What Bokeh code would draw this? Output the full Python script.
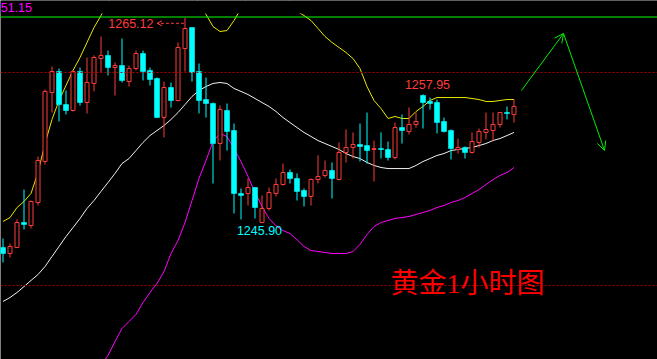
from bokeh.plotting import figure
from bokeh.models import Range1d, Span, Label, Arrow, OpenHead, ColumnDataSource, BoxAnnotation
from bokeh.embed import file_html
from bokeh.resources import INLINE

# ---------------- data ----------------
opens = [1243.57, 1243.00, 1243.57, 1245.91, 1245.63, 1247.79, 1251.64, 1258.12, 1260.09, 1256.99,
         1256.43, 1260.09, 1257.18, 1258.97, 1261.31, 1261.60, 1260.47, 1260.66, 1259.15, 1260.37,
         1261.78, 1260.19, 1259.44, 1255.77, 1258.59, 1257.37, 1262.25, 1264.22, 1260.09, 1257.46,
         1257.09, 1253.33, 1256.43, 1254.55, 1248.64, 1248.64, 1249.20, 1245.91, 1247.23, 1248.64,
         1249.48, 1250.61, 1250.05, 1248.92, 1248.36, 1249.95, 1250.33, 1250.80, 1249.95, 1252.49,
         1252.96, 1253.24, 1253.14, 1252.77, 1252.86, 1252.77, 1252.02, 1254.83, 1254.46, 1255.12,
         1257.84, 1257.28, 1257.18, 1255.40, 1254.55, 1252.77, 1252.96, 1252.49, 1253.43, 1254.37,
         1254.55, 1255.12, 1256.24, 1256.06]
highs = [1244.41, 1243.94, 1246.20, 1249.01, 1247.98, 1252.11, 1258.40, 1260.56, 1260.37, 1258.31,
         1260.19, 1260.47, 1261.41, 1261.60, 1263.38, 1262.06, 1260.94, 1263.19, 1260.66, 1262.06,
         1262.06, 1260.47, 1259.53, 1259.15, 1259.06, 1262.82, 1265.12, 1264.22, 1260.84, 1259.53,
         1257.18, 1256.90, 1257.09, 1255.21, 1249.11, 1250.05, 1249.20, 1248.45, 1249.20, 1250.05,
         1251.45, 1250.89, 1250.52, 1249.11, 1250.05, 1252.21, 1251.74, 1251.55, 1253.43, 1254.65,
         1254.37, 1255.21, 1256.24, 1253.61, 1254.37, 1253.52, 1255.30, 1256.06, 1256.71, 1256.24,
         1257.95, 1257.65, 1257.46, 1255.77, 1254.65, 1253.80, 1253.05, 1254.37, 1254.74, 1256.24,
         1256.24, 1256.24, 1256.81, 1257.46]
lows = [1242.16, 1242.63, 1243.57, 1245.26, 1245.35, 1247.51, 1251.36, 1256.24, 1255.40, 1256.06,
        1256.34, 1256.90, 1256.15, 1258.22, 1260.00, 1259.72, 1257.84, 1259.06, 1258.68, 1260.19,
        1259.25, 1258.78, 1255.77, 1253.90, 1256.71, 1257.28, 1260.09, 1259.15, 1256.15, 1255.77,
        1249.58, 1251.74, 1252.67, 1246.76, 1246.20, 1247.51, 1246.29, 1245.90, 1247.04, 1248.36,
        1249.39, 1249.58, 1247.98, 1247.42, 1247.51, 1249.58, 1250.14, 1248.17, 1249.86, 1251.55,
        1251.92, 1251.64, 1251.45, 1249.76, 1251.92, 1251.74, 1251.83, 1253.33, 1254.18, 1254.83,
        1254.74, 1256.52, 1254.27, 1254.37, 1251.83, 1252.39, 1251.92, 1252.39, 1252.96, 1253.71,
        1253.61, 1254.83, 1255.59, 1255.30]
closes = [1243.00, 1243.66, 1245.91, 1245.73, 1247.89, 1251.74, 1258.22, 1260.09, 1256.99, 1256.43,
          1260.09, 1257.18, 1259.06, 1261.41, 1261.60, 1260.47, 1260.66, 1259.25, 1260.37, 1261.78,
          1260.09, 1259.34, 1255.77, 1258.59, 1257.37, 1262.35, 1264.13, 1260.00, 1257.37, 1257.09,
          1253.33, 1256.52, 1254.46, 1248.64, 1248.45, 1249.20, 1247.32, 1247.23, 1248.73, 1249.48,
          1250.61, 1250.05, 1248.83, 1248.36, 1249.95, 1250.23, 1250.80, 1250.05, 1252.49, 1252.96,
          1253.24, 1253.05, 1252.67, 1252.86, 1252.77, 1252.02, 1254.83, 1254.55, 1255.12, 1255.40,
          1257.18, 1257.09, 1255.30, 1254.46, 1252.86, 1252.96, 1252.49, 1253.52, 1254.46, 1254.65,
          1255.12, 1256.24, 1256.15, 1256.81]
boll_upper = [1246.01, 1246.38, 1247.32, 1247.89, 1248.64, 1250.61, 1253.33, 1255.59, 1257.37, 1258.78,
              1260.19, 1261.41, 1262.82, 1264.22, 1265.35, 1266.57, 1267.70, 1268.64, 1269.39, 1269.95,
              1270.33, 1270.52, 1270.52, 1270.33, 1270.05, 1269.58, 1268.83, 1267.70, 1266.48, 1265.45,
              1264.32, 1263.85, 1263.94, 1264.88, 1266.01, 1267.23, 1268.26, 1268.83, 1268.83, 1268.45,
              1267.70, 1266.76, 1265.73, 1265.35, 1264.88, 1264.13, 1263.38, 1262.82, 1262.35, 1261.88,
              1261.31, 1260.37, 1258.68, 1257.37, 1256.62, 1255.68, 1255.87, 1255.68, 1255.68, 1256.34,
              1256.81, 1257.37, 1257.65, 1257.65, 1257.65, 1257.65, 1257.65, 1257.56, 1257.46, 1257.28,
              1257.28, 1257.37, 1257.46, 1257.46]
boll_mid = [1238.50, 1238.87, 1239.34, 1239.90, 1240.47, 1241.03, 1241.78, 1242.72, 1243.66, 1244.60,
            1245.44, 1246.29, 1247.23, 1247.98, 1248.83, 1249.67, 1250.52, 1251.45, 1251.92, 1252.67,
            1253.43, 1254.08, 1254.55, 1255.02, 1255.59, 1256.24, 1256.99, 1257.75, 1258.31, 1258.68,
            1258.97, 1259.06, 1258.97, 1258.50, 1258.22, 1257.93, 1257.56, 1257.18, 1256.81, 1256.34,
            1255.77, 1255.30, 1254.83, 1254.37, 1253.99, 1253.61, 1253.33, 1253.05, 1252.77, 1252.39,
            1252.11, 1251.92, 1251.55, 1251.27, 1251.08, 1250.98, 1250.98, 1250.98, 1250.98, 1251.27,
            1251.64, 1251.92, 1252.21, 1252.39, 1252.67, 1252.77, 1252.86, 1252.96, 1253.14, 1253.33,
            1253.61, 1253.80, 1254.08, 1254.37]
boll_lower = [1231.00, 1231.10, 1231.20, 1231.30, 1231.40, 1231.50, 1231.40, 1231.20, 1231.00, 1230.80,
              1230.70, 1231.00, 1231.60, 1232.00, 1232.50, 1233.43, 1234.74, 1235.96, 1236.62, 1237.28,
              1238.40, 1239.34, 1240.19, 1241.31, 1243.00, 1244.22, 1245.91, 1247.98, 1250.05, 1251.74,
              1253.52, 1254.27, 1253.99, 1252.86, 1251.64, 1250.23, 1248.73, 1247.42, 1246.29, 1245.60,
              1245.16, 1244.88, 1244.30, 1243.66, 1243.28, 1243.19, 1243.10, 1243.00, 1243.00, 1243.00,
              1243.19, 1243.85, 1244.79, 1245.54, 1245.91, 1246.10, 1246.29, 1246.38, 1246.48, 1246.67,
              1246.85, 1247.04, 1247.32, 1247.51, 1247.79, 1247.98, 1248.26, 1248.64, 1249.01, 1249.48,
              1249.95, 1250.33, 1250.61, 1251.08]
level_green = 1265.21
level_red_1 = 1260.0
level_red_2 = 1240.0
corner_label = "51.15"
chart_title = "黄金1小时图"
marked_high = 26   # candle marked 1265.12
marked_peak = 60   # candle marked 1257.95
marked_low = 37    # candle marked 1245.90

# ---------------- styling ----------------
RED = "#ff3b3b"
CYAN = "#00ffff"
W, H = 657, 359
Y_TOP = 1266.76      # price at the very top of the window
Y_CLIP = 1265.54     # indicator area starts a little below the top
n = len(opens)
idx = list(range(n))

p = figure(width=W, height=H, output_backend="svg", toolbar_location=None,
           x_range=Range1d(-2.5 / 7, 654.5 / 7), y_range=Range1d(1233.05, Y_TOP),
           x_axis_location=None, y_axis_location=None,
           min_border_left=0, min_border_right=0, min_border_bottom=0, min_border_top=0,
           background_fill_color="black", border_fill_color="black", outline_line_color=None)
p.xgrid.visible = False
p.ygrid.visible = False

# reference lines
p.add_layout(Span(location=level_red_1, dimension="width", line_color="#b00000", line_width=1, line_dash="2 2"))
p.add_layout(Span(location=level_red_2, dimension="width", line_color="#b00000", line_width=1, line_dash="2 2"))

# bollinger bands
p.line(idx, boll_upper, line_color="#e8e800", line_width=1)
p.line(idx, boll_mid, line_color="#f0f0f0", line_width=1)
p.line(idx, boll_lower, line_color="#ff00ff", line_width=1)

# candles
up = [c >= o for o, c in zip(opens, closes)]
colors = [RED if u else CYAN for u in up]
src = ColumnDataSource(dict(x=idx, h=highs, l=lows, color=colors))
p.segment(x0="x", y0="l", x1="x", y1="h", line_color="color", line_width=1, source=src)

up_src = ColumnDataSource(dict(x=[i for i in idx if up[i]],
                               top=[max(opens[i], closes[i]) for i in idx if up[i]],
                               bot=[min(opens[i], closes[i]) for i in idx if up[i]]))
dn_src = ColumnDataSource(dict(x=[i for i in idx if not up[i]],
                               top=[max(opens[i], closes[i]) for i in idx if not up[i]],
                               bot=[min(opens[i], closes[i]) for i in idx if not up[i]]))
p.vbar(x="x", top="top", bottom="bot", width=4 / 7, fill_color="black", line_color=RED,
       line_width=1, source=up_src)
p.vbar(x="x", top="top", bottom="bot", width=5 / 7, fill_color=CYAN, line_color=CYAN,
       line_width=0.6, source=dn_src)

# strip at the top (above the indicator area)
p.add_layout(BoxAnnotation(bottom=Y_CLIP, fill_color="black", fill_alpha=1.0, line_color=None))
p.add_layout(Span(location=level_green, dimension="width", line_color="#00ff00", line_width=1))

# annotations
NUMFONT = "Liberation Sans"
hi = highs[marked_high]
p.add_layout(Label(x=marked_high - 4.5, y=hi - 0.5, text=f"{hi:.2f}", text_color=RED,
                   text_font=NUMFONT, text_font_size="12.5px", text_align="right", text_baseline="middle"))
p.add_layout(Arrow(x_start=marked_high - 0.15, y_start=hi - 0.5, x_end=marked_high - 4.0, y_end=hi - 0.5,
                   line_color=RED, line_width=1, line_dash="3 2",
                   end=OpenHead(size=5, line_color=RED, line_width=1)))
pk = highs[marked_peak]
p.add_layout(Label(x=marked_peak + 0.64, y=pk + 0.92, text=f"{pk:.2f}", text_color=RED,
                   text_font=NUMFONT, text_font_size="12.5px", text_align="center", text_baseline="middle"))
lo = lows[marked_low]
p.add_layout(Label(x=marked_low - 0.36, y=lo - 0.75, text=f"{lo:.2f}", text_color=CYAN,
                   text_font=NUMFONT, text_font_size="12.5px", text_align="center", text_baseline="middle"))
p.add_layout(Label(x=-2.3 / 7, y=1266.12, text=corner_label, text_color="#ff00ff",
                   text_font=NUMFONT, text_font_size="12.5px", text_align="left", text_baseline="middle"))
p.add_layout(Label(x=55.36, y=1240.2, text=chart_title, text_color="#ff0000",
                   text_font="Liberation Serif, Noto Sans CJK SC", text_font_size="28px",
                   text_align="left", text_baseline="middle"))

# hand-drawn forecast arrows
GREEN = "#00ee00"
p.add_layout(Arrow(x_start=74.07, y_start=1258.31, x_end=80.07, y_end=1263.66,
                   line_color=GREEN, line_width=1, end=OpenHead(size=9, line_color=GREEN, line_width=1)))
p.add_layout(Arrow(x_start=80.07, y_start=1263.66, x_end=85.93, y_end=1252.68,
                   line_color=GREEN, line_width=1, end=OpenHead(size=9, line_color=GREEN, line_width=1)))

open("out.html", "w").write(file_html(p, INLINE))
